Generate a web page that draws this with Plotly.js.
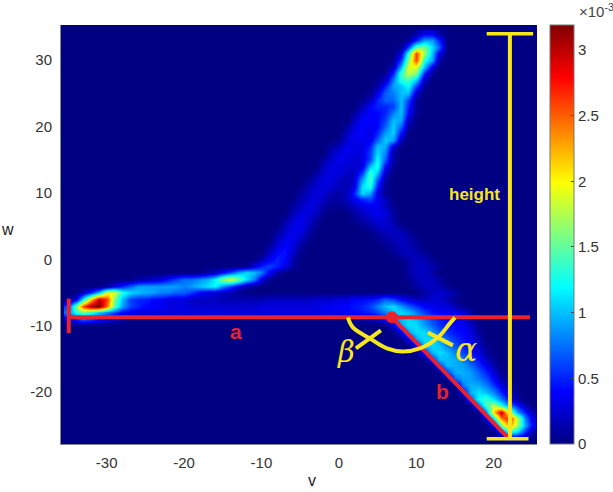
<!DOCTYPE html>
<html><head><meta charset="utf-8">
<script src="https://cdn.plot.ly/plotly-3.0.1.min.js"></script>
<style>html,body{margin:0;padding:0;background:#fff}</style></head>
<body><div id="g" style="width:613px;height:492px"></div>
<script>
const vFirst=-35, vLast=25, wTop=34;
// one entry per w (34 down to -27); each run = [first v, density at v, v+1, ...], units of 10^-3
const densityRuns=[
[[10,.1,.3,.3,.1]],
[[9,.1,.5,.9,.9,.5]],
[[8,.05,.6,1.5,1.6,1.1,.7]],
[[8,.3,1.3,2.6,1.7,1,.3]],
[[7,.05,.6,1.6,2.6,1.3,.9,.1]],
[[7,.2,1,1.9,1.9,1,.3]],
[[6,.05,.5,1.4,1.8,1.6,.5,.05]],
[[5,.05,.2,.8,1.3,1.4,1,.2]],
[[5,.1,.5,.9,1,1.2,.6,.05]],
[[4,.05,.3,.7,.8,1,1,.2]],
[[3,.05,.2,.5,.7,.7,1,.6,.05]],
[[3,.15,.4,.5,.5,.6,1,.5,.05]],
[[2,.1,.3,.4,.4,.5,.8,1,.4,.05]],
[[2,.2,.4,.4,.4,.6,1,.9,.2]],
[[1,.1,.3,.4,.35,.4,.7,1.05,.7,.1]],
[[1,.2,.35,.4,.3,.5,.9,1.05,.4]],
[[0,.05,.3,.35,.35,.35,.7,1.05,.9,.15]],
[[-1,.1,.2,.35,.3,.3,.5,1,.95,.25]],
[[-1,.2,.3,.35,.3,.3,.6,1.1,.8,.1]],
[[-2,.1,.25,.35,.3,.25,.3,.6,1.2,.7,.1]],
[[-2,.2,.3,.3,.25,.25,.3,1,1.3,.4,.05]],
[[-3,.1,.25,.3,.3,.2,.2,.6,1.4,1,.2]],
[[-4,.05,.2,.3,.3,.2,.15,.25,.9,1.4,.7,.1]],
[[-4,.15,.25,.3,.25,.2,.15,.3,1.1,1.3,.5,.05]],
[[-5,.1,.2,.3,.25,.15,.1,.2,.5,1.1,.9,.3,.05]],
[[-5,.15,.25,.3,.2,.1,.1,.2,.35,.5,.6,.35,.2]],
[[-6,.1,.2,.3,.25,.1,.05,.05,.1,.2,.3,.35,.35,.2,.05]],
[[-6,.15,.3,.3,.2,.05],[2,.1,.2,.3,.35,.3,.1]],
[[-7,.1,.25,.35,.25,.1],[2,.05,.15,.2,.3,.25,.1]],
[[-7,.2,.3,.35,.2,.05],[3,.05,.1,.2,.25,.2,.05]],
[[-8,.1,.25,.35,.3,.1],[5,.1,.15,.2,.2,.1]],
[[-8,.2,.35,.35,.2,.05],[5,.05,.1,.15,.2,.15,.05]],
[[-9,.1,.3,.4,.3,.1],[6,.05,.1,.2,.15,.1]],
[[-9,.2,.4,.45,.25,.05],[7,.05,.15,.2,.15,.05]],
[[-10,.15,.35,.5,.4,.15],[8,.05,.1,.2,.15,.05]],
[[-12,.05,.3,.5,.6,.5,.3,.1],[9,.1,.2,.2,.15,.05]],
[[-17,.1,.2,.4,.6,.9,1.1,1,.8,.4,.1],[9,.1,.2,.2,.1]],
[[-26,.1,.15,.2,.3,.45,.6,.75,.75,.85,.95,1.2,1.7,1.9,1.6,1.1,.8,.3,.05],[9,.05,.15,.2,.2,.1]],
[[-30,.1,.3,.5,.7,.9,.9,.9,.9,.9,.9,.8,.9,1,1.1,1.2,.8,.6,.3,.1,.05],[10,.1,.2,.2,.15,.05]],
[[-33,.2,.5,1,1.9,1.9,1.3,1.1,1,.95,.9,.8,.8,.7,.7,.55,.4,.3,.25,.2,.15,.05],[11,.1,.2,.25,.2,.1]],
[[-34,.3,1.2,2.2,3,2.6,1.6,1,.6,.5,.5,.4,.4,.3,.3,.3,.2,.2,.2,.2,.15,.15,.15,.15,.15,.15,.2,.2,.2,.2,.2,.2,.25,.25,.25,.3,.3,.4,.4,.45,.5,.7,.6,.4,.3,.2,.2,.25,.25,.15,.05]],
[[-35,.6,1.6,2.6,3.1,3.2,2.4,1.5,.9,.6,.5,.4,.4,.35,.3,.3,.3,.25,.25,.25,.25,.25,.25,.25,.25,.25,.3,.3,.3,.3,.3,.3,.3,.3,.35,.35,.4,.4,.45,.5,.6,.8,1,1.1,.9,.7,.55,.4,.35,.3,.3,.15,.05]],
[[-35,.8,1.3,1.5,1.3,1,.8,.6,.4,.35],[-26,.3,.3,.3,.3,.3,.3,.3,.3,.3,.3,.3,.3,.3,.3,.3,.3,.3,.3,.3,.3,.3,.3,.3,.3],[-2,.35,.35,.35,.4,.4,.45,.5,.6,.8,1,1.1,1,.8,.6,.45,.4,.35,.35,.3,.1]],
[[-35,.2,.5,.7,.6,.4,.3,.2,.1],[2,.05,.1,.15,.2,.4,.7,1,1.1,1,.8,.6,.5,.4,.35,.3,.1]],
[[7,.3,.9,1.1,1.1,.9,.7,.55,.45,.4,.35,.25,.05]],
[[8,.3,.9,1.1,1.1,.9,.7,.55,.45,.4,.3,.1]],
[[9,.3,.9,1.1,1.1,.9,.7,.55,.45,.35,.15]],
[[10,.4,1,1.1,1,.8,.65,.5,.4,.2,.05]],
[[11,.5,1,1.1,1,.8,.6,.45,.3,.1]],
[[12,.5,1,1,.95,.8,.6,.45,.2,.05]],
[[13,.6,1,.95,.9,.75,.55,.35,.1]],
[[14,.6,.95,.95,.9,.7,.5,.25,.05]],
[[15,.7,.9,.9,.8,.65,.4,.15]],
[[16,.8,.95,.95,.8,.55,.3,.1]],
[[16,.3,.95,1.1,1,.8,.5,.2,.05]],
[[17,.6,1.2,1.4,1.1,.8,.4,.1]],
[[18,.7,1.4,1.8,1.3,.8,.5,.15]],
[[19,.8,2.2,3,1.8,.9,.5,.15]],
[[19,.3,1.2,2.4,2.8,1.8,.8,.3]],
[[20,.4,1.5,2.4,1.7,.9,.4]],
[[21,.5,1.2,1,.5,.1]],
[[22,.2,.2,.1]]
];
const xTicks=[-30,-20,-10,0,10,20];
const xTickText=['-30','-20','-10','0','10','20'];
const yTicks=[-20,-10,0,10,20,30];
const yTickText=['-20','-10','0','10','20','30'];
const cTicks=[0,0.5,1,1.5,2,2.5,3];
const cTickText=['0','0.5','1','1.5','2','2.5','3'];
const jet=[[0,'rgb(0,0,131)'],[0.125,'rgb(0,0,255)'],[0.375,'rgb(0,255,255)'],[0.625,'rgb(255,255,0)'],[0.875,'rgb(255,0,0)'],[1,'rgb(128,0,0)']];

const vCenters=[]; for(let v=vFirst;v<=vLast;v++) vCenters.push(v);
const wCenters=densityRuns.map((_,i)=>wTop-i);
const density=densityRuns.map(runs=>{
  const row=vCenters.map(()=>0);
  runs.forEach(r=>{for(let i=1;i<r.length;i++){const k=r[0]+i-1-vFirst;if(k>=0&&k<row.length)row[k]=r[i];}});
  return row;
});

const RED='#e8232e', YEL='#f6e71d';
const overlays=[
 {c:RED,w:4,x:[-34.9,24.7],y:[-8.7,-8.7]},
 {c:RED,w:4,x:[-34.9,-34.9],y:[-5.9,-11.1]},
 {c:RED,w:4,x:[6.85,21.8],y:[-8.7,-26.8]},
 {c:YEL,w:4,x:[22.1,22.1],y:[34,-27]},
 {c:YEL,w:3.5,x:[19.1,25.1],y:[34,34]},
 {c:YEL,w:3.5,x:[19.1,24.5],y:[-27,-27]},
 {c:YEL,w:4,x:[1.16,1.81,4,6.2,8.27,10.47,12.8,14.34,15],y:[-8.73,-10.24,-11.9,-13.4,-13.86,-13.4,-11.75,-9.64,-8.73],s:true},
 {c:YEL,w:4,x:[2.2,5.43],y:[-13.4,-10.7]},
 {c:YEL,w:4,x:[11.5,14.73],y:[-11,-12.95]}
];
const traces=[{type:'heatmap',x:vCenters,y:wCenters,z:density,zmin:0,zmax:3.19,zsmooth:'best',colorscale:jet,hoverinfo:'skip',
 colorbar:{xref:'container',x:550/613,xanchor:'left',y:0,yanchor:'bottom',len:1,lenmode:'fraction',thickness:24,thicknessmode:'pixels',xpad:0,ypad:0,
  tickvals:cTicks,ticktext:cTickText,ticks:'inside',ticklen:3,tickcolor:'#444',outlinecolor:'#777',outlinewidth:1,
  tickfont:{family:'Liberation Sans',size:15,color:'#333'}}}];
overlays.forEach(o=>traces.push({type:'scatter',mode:'lines',x:o.x,y:o.y,line:{color:o.c,width:o.w,shape:o.s?'spline':'linear'},showlegend:false,hoverinfo:'skip'}));
traces.push({type:'scatter',mode:'markers',x:[6.85],y:[-8.7],marker:{color:RED,size:12},showlegend:false,hoverinfo:'skip'});

function note(x,y,text,color,size,family,weight){return {x,y,xref:'x',yref:'y',text,showarrow:false,font:{family:family||'Liberation Sans',size,color,weight:weight||400}};}
function pnote(x,y,text,size,color,anchor){return {xref:'paper',yref:'paper',x,y,text,showarrow:false,xanchor:'center',yanchor:anchor||'middle',font:{family:'Liberation Sans',size,color}};}
const annotations=[
 note(-13.3,-10.8,'<b>a</b>',RED,21),
 note(13.4,-19.9,'<b>b</b>',RED,21),
 note(17.5,9.8,'height',YEL,17,'Liberation Sans',600),
 note(16.4,-13.5,'<i>α</i>',YEL,33,'DejaVu Serif'),
 note(0.9,-14,'<i>β</i>',YEL,29,'DejaVu Serif'),
 pnote(1.124,1.034,'×10<sup>-3</sup>',15,'#444'),
 pnote(-0.113,0.513,'w',16,'#222'),
 pnote(0.527,-0.112,'v',16,'#222','bottom')
];
const axisBase={showgrid:false,zeroline:false,showline:true,linecolor:'#888',linewidth:1,ticks:'outside',ticklen:5,tickcolor:'rgba(0,0,0,0)',tickfont:{family:'Liberation Sans',size:15,color:'#333'}};
Plotly.newPlot('g',traces,{
 width:613,height:492,margin:{l:61,r:76,t:25,b:48},paper_bgcolor:'#fff',plot_bgcolor:'rgb(0,0,131)',showlegend:false,
 xaxis:Object.assign({},axisBase,{range:[-35.9,25.6],tickvals:xTicks,ticktext:xTickText}),
 yaxis:Object.assign({},axisBase,{range:[-27.8,35.3],tickvals:yTicks,ticktext:yTickText}),
 annotations
},{displayModeBar:false,staticPlot:true});
</script></body></html>
